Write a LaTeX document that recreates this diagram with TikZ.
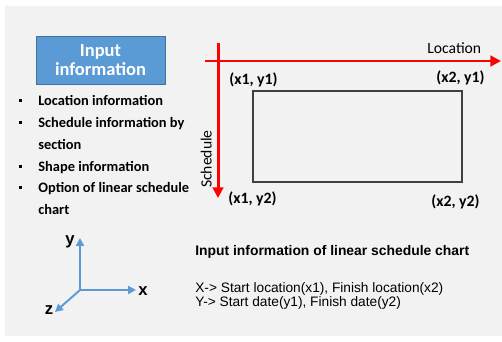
\documentclass[tikz,border=0pt]{standalone}
\usepackage{fontspec}
\setmainfont{Carlito}
\newfontfamily\arialfont{Liberation Sans}
\usetikzlibrary{positioning,arrows.meta}
\definecolor{panelgray}{HTML}{F2F2F2}
\definecolor{inblue}{HTML}{5B9BD5}
\definecolor{inblueedge}{HTML}{41719C}

\begin{document}
\begin{tikzpicture}[
    x=0.02cm, y=-0.02cm,
    infobox/.style={draw=inblueedge, fill=inblue, text=white, font=\fontsize{10.5}{11.5}\selectfont\bfseries, align=center, minimum width=2.58cm, minimum height=0.96cm, inner sep=0pt},
    item/.style={anchor=base west, font=\fontsize{8.2}{9}\selectfont\bfseries, inner sep=0pt},
    dot/.style={fill=black, minimum size=1.7pt, inner sep=0pt},
    corner/.style={anchor=base west, font=\fontsize{9}{10}\selectfont\bfseries, inner sep=0pt},
    axis/.style={red, line width=1.7pt, -{Triangle[length=6pt, width=6pt]}},
    dir/.style={inblue, line width=1.1pt, -{Triangle[length=4.5pt, width=4.5pt]}},
    dirlabel/.style={font=\arialfont\fontsize{9.5}{10}\selectfont\bfseries, inner sep=0pt},
    note/.style={anchor=base west, font=\arialfont\fontsize{7.8}{9}\selectfont, inner sep=0pt}
]
\useasboundingbox (0,0) rectangle (502,341);
\fill[white] (0,0) rectangle (502,341);
\fill[panelgray] (5,6) rectangle (502,336);

% input box and list
\node[infobox] (input) at (100.5,60) {Input\\[-1pt]information};
\node[item] (loc) at (38,105) {Location information};
\node[item] (sched) at (38,127) {Schedule information by};
\node[item] (schedb) at (38,149) {section};
\node[item] (shape) at (38,171) {Shape information};
\node[item] (opt) at (38,192) {Option of linear schedule};
\node[item] (optb) at (38,214) {chart};
\foreach \i in {loc,sched,shape,opt}
    \node[dot, left=9pt of \i.base west, yshift=2.4pt] {};

% location / schedule axes
\coordinate (top) at (218,43);
\coordinate (down) at (218,198);
\coordinate (lft) at (205,61);
\coordinate (rgt) at (501,61);
\draw[axis] (lft) -- (rgt);
\draw[axis] (top) -- (down);
\node[anchor=base west, font=\fontsize{8.9}{10}\selectfont, inner sep=0pt] (locname) at (427,53) {Location};
\node[rotate=90, anchor=base, font=\fontsize{8.9}{10}\selectfont, inner sep=0pt] (schedname) at (211.5,159) {Schedule};

\draw[black!75, line width=0.6pt] (253,91) rectangle (462,182);
\node[corner] (c11) at (229,84) {(x1, y1)};
\node[corner] (c21) at (436,82) {(x2, y1)};
\node[corner] (c12) at (228,203) {(x1, y2)};
\node[corner] (c22) at (431,206) {(x2, y2)};

% x y z directions
\coordinate (o) at (80,290);
\node[dirlabel] (ylab) at (70,242) {y};
\node[dirlabel] (xlab) at (143,291) {x};
\node[dirlabel] (zlab) at (49,310) {z};
\draw[dir] (o) -- (80,238);
\draw[dir] (o) -- (136,290);
\draw[dir] (o) -- (55,312);

% notes
\node[note, font=\arialfont\fontsize{7.9}{9}\selectfont\bfseries] (title) at (195,255) {Input information of linear schedule chart};
\node[note] (xline) at (195,292) {X-> Start location(x1), Finish location(x2)};
\node[note] (yline) at (195,306) {Y-> Start date(y1), Finish date(y2)};
\end{tikzpicture}
\end{document}
